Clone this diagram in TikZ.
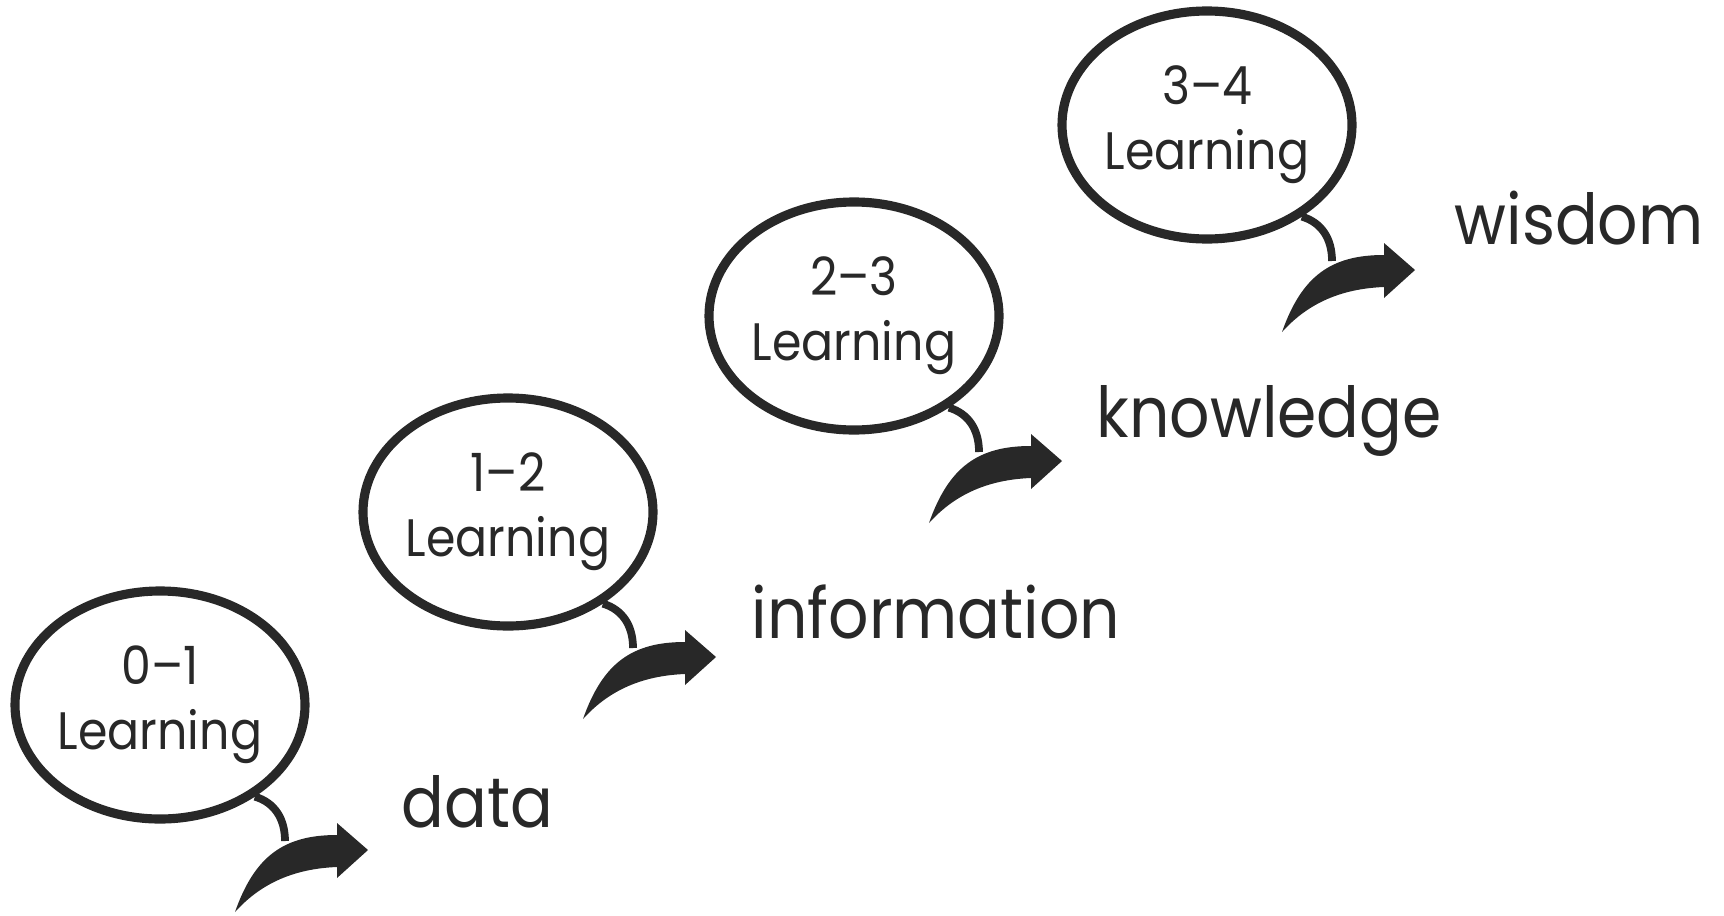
\documentclass[tikz,border=0pt]{standalone}
\usepackage{fontspec}
\setmainfont{Poppins}[FakeStretch=0.9]
\usetikzlibrary{shapes,calc}
\definecolor{ink}{HTML}{282828}
\tikzset{
	bubble/.style={draw=ink, line width=2.6pt, ellipse, minimum width=2.9cm, minimum height=2.28cm, inner sep=0pt, align=center, text=ink, font=\fontsize{15}{18.5}\selectfont},
	word/.style={anchor=base west, inner sep=0pt, text=ink, font=\fontsize{20}{24}\selectfont},
	stem/.style={draw=ink, line width=2.2pt}
}
\newcommand{\swoosh}[2]{
	\coordinate (#2) at ($ (#1.center) + (1.25,-1.36) $);
	\draw[stem] (#1.-44) .. controls +(0.2,-0.06) and +(0,0.22) .. (#2);
	\fill[ink, shift={(#1.center)}] (0.75,-2.07) .. controls (0.95,-1.85) and (1.25,-1.64) .. (1.77,-1.62) -- (1.77,-1.73) -- (2.08,-1.45) -- (1.77,-1.18) -- (1.77,-1.30) .. controls (1.25,-1.30) and (0.95,-1.5) .. cycle;
}

\begin{document}
\begin{tikzpicture}
	\useasboundingbox (0,0) rectangle (17.24,-9.15);
%
	\node[bubble] (l01) at (1.60,-7.05) {0--1\\Learning};
	\node[bubble] (l12) at (5.08,-5.12) {1--2\\Learning};
	\node[bubble] (l23) at (8.54,-3.16) {2--3\\Learning};
	\node[bubble] (l34) at (12.07,-1.25) {3--4\\Learning};
%
	\node[word] (data) at (4.01,-8.27) {data};
	\node[word] (info) at (7.51,-6.38) {information};
	\node[word] (know) at (10.96,-4.37) {knowledge};
	\node[word] (wis) at (14.54,-2.44) {wisdom};
%
	\swoosh{l01}{s01}
	\swoosh{l12}{s12}
	\swoosh{l23}{s23}
	\swoosh{l34}{s34}
\end{tikzpicture}
\end{document}
